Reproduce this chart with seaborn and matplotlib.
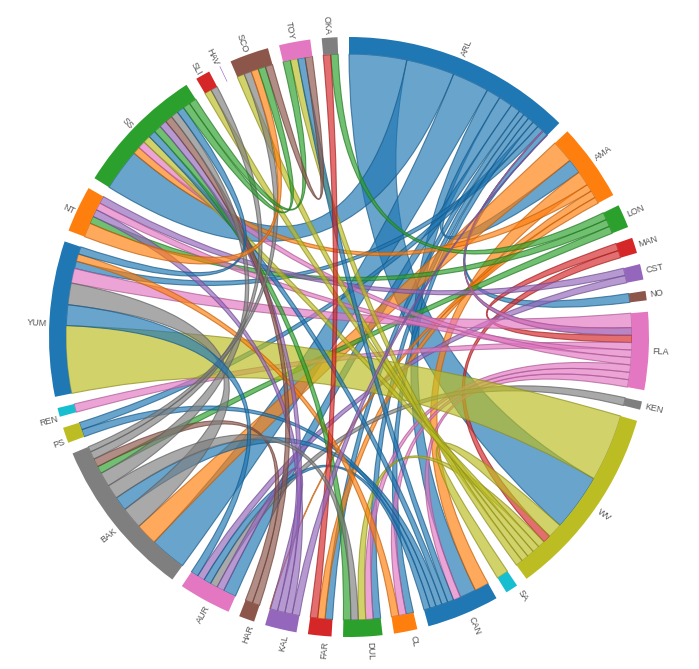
import numpy as np
import seaborn as sns
from matplotlib import pyplot as plt
from matplotlib.patches import PathPatch, Wedge
from matplotlib.path import Path

node_names = ['ARL', 'AMA', 'LON', 'MAN', 'CST', 'NO', 'FLA', 'KEN', 'WV', 'SA', 'CAN', 'CL', 'DUL', 'FAR',
              'KAL', 'HAR', 'AUR', 'BAK', 'PS', 'REN', 'YUM', 'NT', 'SS', 'SLI', 'HAV', 'SCO', 'TOY', 'OKA']

# the ribbon takes the colour of link_owner, sizes can differ at the two ends
link_owner = ['ARL'] * 13 + ['AMA'] * 5 + ['LON'] * 3 + ['MAN'] * 2 + ['CST'] * 2 + ['FLA'] * 8 + ['KEN'] \
    + ['WV'] * 7 + ['CAN'] * 5 + ['CL', 'DUL', 'FAR'] + ['KAL'] * 4 + ['HAR'] * 2 + ['BAK'] * 5 \
    + ['YUM'] * 2 + ['NT', 'SS', 'SS', 'SCO']
link_other = ['WV', 'SS', 'BAK', 'CAN', 'AMA', 'AUR', 'FLA', 'YUM', 'PS', 'CL', 'DUL', 'FAR', 'NO',
              'BAK', 'CAN', 'SS', 'FAR', 'KAL',
              'NT', 'BAK', 'OKA',
              'WV', 'FLA',
              'NT', 'AUR',
              'YUM', 'REN', 'CAN', 'CL', 'DUL', 'NT', 'SS', 'ARL',
              'AUR',
              'YUM', 'SA', 'DUL', 'SLI', 'SCO', 'TOY', 'SS',
              'BAK', 'AUR', 'PS', 'SS', 'TOY',
              'YUM', 'SS', 'OKA',
              'AUR', 'NT', 'SS', 'ARL',
              'SS', 'BAK',
              'YUM', 'DUL', 'SS', 'SLI', 'SCO',
              'AUR', 'SS',
              'SCO', 'SCO', 'TOY', 'TOY']
owner_size = [11.7, 9.8, 7.5, 2.9, 2.8, 2.0, 1.4, 1.3, 1.3, 1.2, 1.2, 1.1, 1.1,
              4.6, 3.0, 1.5, 1.5, 1.3,
              1.5, 1.5, 1.5,
              1.5, 1.5,
              1.5, 1.5,
              2.9, 1.5, 1.5, 1.5, 1.5, 1.5, 1.5, 1.5,
              1.6,
              13.7, 3.0, 1.45, 1.45, 1.45, 1.45, 1.45,
              1.25, 1.25, 1.25, 1.25, 1.25,
              1.5, 1.5, 1.5,
              1.5, 1.5, 1.5, 1.5,
              1.5, 1.5,
              4.4, 2.9, 2.9, 1.6, 1.1,
              4.2, 1.5,
              2.9, 1.5, 1.5, 1.5]
other_size = [11.6, 8.5, 7.4, 3.3, 3.0, 2.6, 1.5, 1.5, 1.5, 1.5, 1.5, 1.5, 1.8,
              4.4, 2.9, 1.5, 1.5, 0.1,
              1.5, 1.5, 1.5,
              1.6, 1.5,
              1.5, 1.5,
              3.0, 1.7, 1.5, 1.5, 1.5, 1.5, 1.5, 0.1,
              1.5,
              13.7, 2.4, 1.5, 1.4, 1.5, 1.5, 1.5,
              2.9, 1.5, 1.5, 1.5, 1.5,
              1.5, 1.5, 1.5,
              1.5, 1.5, 1.5, 0.1,
              1.5, 1.7,
              4.4, 1.5, 1.5, 1.4, 1.5,
              1.5, 1.5,
              1.5, 1.5, 1.5, 1.5]

# clockwise order of the ribbon ends inside each node
end_order = {
    'ARL': ['WV', 'SS', 'BAK', 'CAN', 'AMA', 'AUR', 'FAR', 'DUL', 'CL', 'PS', 'YUM', 'FLA', 'NO', 'KAL'],
    'AMA': ['BAK', 'ARL', 'CAN', 'SS', 'FAR', 'KAL'],
    'LON': ['OKA', 'NT', 'BAK'],
    'MAN': ['FLA', 'WV'],
    'CST': ['NT', 'AUR'],
    'NO': ['ARL'],
    'FLA': ['YUM', 'ARL', 'MAN', 'REN', 'NT', 'SS', 'DUL', 'CL', 'CAN'],
    'KEN': ['AUR'],
    'WV': ['YUM', 'ARL', 'SA', 'MAN', 'DUL', 'SS', 'SLI', 'SCO', 'TOY'],
    'SA': ['WV'],
    'CAN': ['AMA', 'ARL', 'FLA', 'TOY', 'SS', 'BAK', 'PS', 'AUR'],
    'CL': ['ARL', 'FLA', 'YUM'],
    'DUL': ['ARL', 'FLA', 'WV', 'BAK', 'SS'],
    'FAR': ['ARL', 'AMA', 'OKA'],
    'KAL': ['ARL', 'NT', 'SS', 'AUR', 'AMA'],
    'HAR': ['SS', 'BAK'],
    'AUR': ['ARL', 'KAL', 'KEN', 'CAN', 'CST', 'YUM'],
    'BAK': ['ARL', 'AMA', 'YUM', 'CAN', 'DUL', 'SS', 'LON', 'HAR', 'SLI', 'SCO'],
    'PS': ['CAN', 'ARL'],
    'REN': ['FLA'],
    'YUM': ['WV', 'AUR', 'BAK', 'FLA', 'ARL', 'CL', 'SS'],
    'NT': ['SCO', 'LON', 'KAL', 'FLA', 'CST'],
    'SS': ['ARL', 'AMA', 'FLA', 'WV', 'CAN', 'DUL', 'KAL', 'HAR', 'BAK', 'YUM', 'SCO', 'TOY'],
    'SLI': ['WV', 'BAK'],
    'HAV': [],
    'SCO': ['WV', 'BAK', 'NT', 'SS', 'TOY'],
    'TOY': ['SS', 'WV', 'CAN', 'SCO'],
    'OKA': ['FAR', 'LON'],
}
# HAV has no ribbon, only a sliver of ring
ring_only = {'HAV': 0.12}

GAP = 2.2
R_IN = 283
R_OUT = 300


def end_sizes():
    """Return {(node, partner): size} for both ends of every link"""
    sizes = {}
    for a, b, va, vb in zip(link_owner, link_other, owner_size, other_size):
        sizes[(a, b)] = va
        sizes[(b, a)] = vb
    return sizes


def layout(sizes):
    """Return the ring span of each node and the span of each ribbon end, in degrees clockwise from the top"""
    totals = {n: sum(sizes[(n, p)] for p in end_order[n]) + ring_only.get(n, 0) for n in node_names}
    k = (360 - GAP * len(node_names)) / sum(totals.values())
    rings, ends = {}, {}
    pos = 0
    for n in node_names:
        rings[n] = (pos, pos + totals[n] * k)
        cur = pos
        for p in end_order[n]:
            ends[(n, p)] = (cur, cur + sizes[(n, p)] * k)
            cur += sizes[(n, p)] * k
        pos += totals[n] * k + GAP
    return rings, ends


def arc_points(a0, a1, r):
    t = np.radians(np.linspace(a0, a1, 16))
    return np.column_stack([r * np.sin(t), r * np.cos(t)])


def ribbon_path(s, t):
    """Ribbon between two end spans, the sides are quadratic curves through the centre"""
    p1 = arc_points(s[0], s[1], R_IN)
    p2 = arc_points(t[0], t[1], R_IN)
    verts = list(p1) + [(0, 0), p2[0]] + list(p2[1:]) + [(0, 0), p1[0], p1[0]]
    codes = [Path.MOVETO] + [Path.LINETO] * (len(p1) - 1) + [Path.CURVE3, Path.CURVE3] \
        + [Path.LINETO] * (len(p2) - 1) + [Path.CURVE3, Path.CURVE3, Path.CLOSEPOLY]
    return Path(verts, codes)


sns.set_theme(style='white')
plt.rcParams['font.family'] = ['Liberation Sans', 'DejaVu Sans']
palette = sns.color_palette('tab10')
colors = {n: palette[i % 10] for i, n in enumerate(node_names)}

fig, ax = plt.subplots(figsize=(6.99, 6.69), dpi=100)
fig.subplots_adjust(0, 0, 1, 1)
ax.set_xlim(-349, 350)
ax.set_ylim(-332, 337)
ax.set_aspect('equal')
ax.axis('off')

rings, ends = layout(end_sizes())

for a, b in zip(link_owner, link_other):
    c = colors[a]
    edge = tuple(v * 0.75 for v in c)
    ax.add_patch(PathPatch(ribbon_path(ends[(a, b)], ends[(b, a)]), facecolor=(*c, 0.67),
                           edgecolor=(*edge, 0.7), lw=0.8))

for n in node_names:
    a0, a1 = rings[n]
    ax.add_patch(Wedge((0, 0), R_OUT, 90 - a1, 90 - a0, width=R_OUT - R_IN, color=colors[n], lw=0))
    mid = (a0 + a1) / 2
    t = np.radians(mid)
    x, y = 304 * np.sin(t), 304 * np.cos(t)
    # from the lower right round to the top the labels sit a little counter-clockwise of the arc middle
    if mid >= 130:
        t = np.radians(mid - 0.8)
        x, y = 304 * np.sin(t) + 2, 304 * np.cos(t) - 1
    if mid < 180:
        ax.text(x, y, n, rotation=90 - mid, ha='left', va='center', rotation_mode='anchor',
                fontsize=6.5, color='#555555')
    else:
        ax.text(x, y, n, rotation=270 - mid, ha='right', va='center', rotation_mode='anchor',
                fontsize=6.5, color='#555555')

fig.savefig('out.png', dpi=100)
